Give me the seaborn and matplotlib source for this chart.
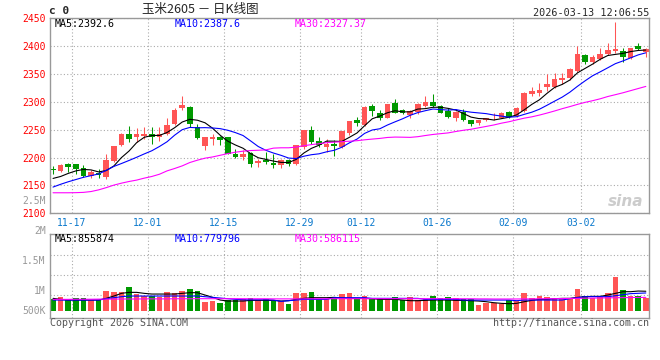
import numpy as np
import pandas as pd
import matplotlib
matplotlib.use("Agg")
import matplotlib.pyplot as plt
import matplotlib.transforms as mtransforms
import seaborn as sns

# Daily candles, 2025-11-13 .. 2026-03-13 (79 trading days)
opens = [2180, 2175, 2188, 2188, 2181, 2166, 2172, 2165, 2194, 2222,
         2242, 2237, 2238, 2243, 2237, 2243, 2260, 2289, 2290, 2255,
         2221, 2233, 2237, 2236, 2207, 2201, 2208, 2190, 2195, 2190,
         2186, 2196, 2188, 2218, 2250, 2229, 2218, 2225, 2219, 2244,
         2268, 2258, 2292, 2280, 2271, 2298, 2286, 2277, 2281, 2293,
         2299, 2292, 2283, 2271, 2281, 2267, 2261, 2267, 2270, 2271,
         2281, 2274, 2283, 2314, 2315, 2326, 2326, 2339, 2342, 2355,
         2383, 2371, 2377, 2385, 2390, 2390, 2379, 2399, 2389]
highs = [2184, 2188, 2190, 2189, 2186, 2177, 2179, 2206, 2221, 2244,
         2256, 2253, 2254, 2254, 2254, 2270, 2288, 2310, 2293, 2260,
         2237, 2243, 2238, 2237, 2215, 2213, 2209, 2198, 2210, 2206,
         2197, 2197, 2223, 2250, 2256, 2236, 2234, 2231, 2248, 2266,
         2273, 2293, 2296, 2286, 2296, 2304, 2287, 2285, 2297, 2310,
         2313, 2294, 2288, 2283, 2287, 2268, 2268, 2271, 2279, 2281,
         2284, 2290, 2318, 2326, 2334, 2350, 2352, 2352, 2360, 2400,
         2386, 2384, 2396, 2406, 2442, 2396, 2397, 2405, 2396]
lows = [2171, 2174, 2174, 2170, 2165, 2164, 2164, 2161, 2192, 2221,
        2228, 2228, 2233, 2225, 2230, 2241, 2258, 2286, 2255, 2233,
        2213, 2222, 2222, 2206, 2200, 2196, 2183, 2183, 2189, 2182,
        2181, 2185, 2186, 2216, 2225, 2218, 2210, 2203, 2217, 2241,
        2256, 2256, 2274, 2267, 2270, 2279, 2278, 2270, 2278, 2291,
        2290, 2279, 2270, 2266, 2266, 2256, 2258, 2265, 2267, 2270,
        2270, 2273, 2282, 2310, 2311, 2320, 2324, 2332, 2338, 2353,
        2367, 2367, 2375, 2383, 2388, 2371, 2377, 2392, 2380]
closes = [2178, 2186, 2183, 2179, 2167, 2174, 2168, 2195, 2220, 2242,
          2233, 2243, 2243, 2236, 2243, 2259, 2286, 2294, 2260, 2235,
          2236, 2237, 2231, 2207, 2201, 2207, 2189, 2194, 2192, 2186,
          2195, 2188, 2222, 2249, 2228, 2223, 2225, 2221, 2247, 2265,
          2262, 2290, 2283, 2271, 2295, 2280, 2280, 2283, 2296, 2299,
          2292, 2280, 2273, 2281, 2268, 2260, 2267, 2270, 2271, 2280,
          2273, 2288, 2315, 2320, 2321, 2331, 2341, 2342, 2359, 2385,
          2371, 2380, 2385, 2393, 2395, 2380, 2396, 2395, 2395]

# moving averages as drawn on the chart
ma5 = [2162.5, 2166, 2171.5, 2176, 2178.6, 2177.8, 2174.2, 2176.6, 2184.8, 2199.8,
       2211.6, 2226.6, 2236.2, 2239.4, 2239.6, 2244.8, 2253.4, 2263.6, 2268.4, 2266.8,
       2262.2, 2252.4, 2239.8, 2229.2, 2222.4, 2216.6, 2207.0, 2199.6, 2196.6, 2193.6,
       2191.2, 2191.0, 2196.6, 2208.0, 2216.4, 2222.0, 2229.4, 2229.2, 2228.8, 2236.2,
       2244.0, 2257.0, 2269.4, 2274.2, 2280.2, 2283.8, 2281.8, 2281.8, 2286.8, 2287.6,
       2290.0, 2290.0, 2288.0, 2285.0, 2278.8, 2272.4, 2269.8, 2269.2, 2267.2, 2269.6,
       2272.2, 2276.4, 2285.4, 2295.2, 2303.4, 2315.0, 2325.6, 2331.0, 2338.8, 2351.6,
       2359.6, 2367.4, 2376.0, 2382.8, 2384.8, 2386.6, 2389.8, 2391.8, 2392.6]
ma10 = [2147, 2152, 2156.5, 2160.5, 2164.5, 2167.5, 2170.5, 2177, 2184, 2189.2,
        2194.7, 2200.4, 2206.4, 2212.1, 2219.7, 2228.2, 2240.0, 2249.9, 2253.9, 2253.2,
        2253.5, 2252.9, 2251.7, 2248.8, 2244.6, 2239.4, 2229.7, 2219.7, 2212.9, 2208.0,
        2203.9, 2199.0, 2198.1, 2202.3, 2205.0, 2206.6, 2210.2, 2212.9, 2218.4, 2226.3,
        2233.0, 2243.2, 2249.3, 2251.5, 2258.2, 2263.9, 2269.4, 2275.6, 2280.5, 2283.9,
        2286.9, 2285.9, 2284.9, 2285.9, 2283.2, 2281.2, 2279.9, 2278.6, 2276.1, 2274.2,
        2272.3, 2273.1, 2277.3, 2281.2, 2286.5, 2293.6, 2301.0, 2308.2, 2317.0, 2327.5,
        2337.3, 2346.5, 2353.5, 2360.8, 2368.2, 2373.1, 2378.6, 2383.9, 2387.6]
ma30 = [2136.8, 2136.8, 2136.8, 2137, 2137.5, 2139, 2142, 2146, 2150.5, 2154,
        2157, 2159.5, 2163, 2166, 2170, 2176, 2180.3, 2185, 2191, 2195.2,
        2198.8, 2201, 2204, 2207, 2209.5, 2211.3, 2212.5, 2213, 2213.6, 2216.8,
        2217.4, 2217.4, 2218.7, 2221.1, 2223.1, 2224.7, 2226.6, 2227.5, 2228.4, 2229.2,
        2230.1, 2231.7, 2233.0, 2234.2, 2235.9, 2236.6, 2236.4, 2236.1, 2237.3, 2239.4,
        2241.3, 2242.7, 2244.1, 2246.6, 2248.8, 2250.6, 2253.2, 2255.7, 2258.3, 2261.5,
        2264.1, 2267.4, 2270.5, 2272.9, 2276.0, 2279.6, 2283.4, 2287.5, 2291.2, 2295.2,
        2298.8, 2301.8, 2305.2, 2309.3, 2312.6, 2316.0, 2319.8, 2323.6, 2327.37]

# volume (thousand lots) and its moving averages
volume_k = [530, 590, 500, 545, 545, 470, 470, 880, 835, 835,
            1040, 735, 660, 630, 615, 835, 790, 880, 955, 865,
            395, 440, 350, 470, 470, 500, 570, 470, 515, 410,
            410, 295, 790, 790, 835, 500, 500, 585, 735, 790,
            545, 645, 545, 545, 545, 585, 470, 585, 470, 500,
            650, 545, 585, 545, 500, 500, 270, 320, 320, 290,
            470, 440, 800, 560, 650, 600, 560, 560, 560, 950,
            650, 550, 600, 770, 1500, 930, 650, 650, 550]
vma5_k = [543, 499, 469, 469, 469, 469, 469, 543, 645, 763,
          807, 807, 763, 733, 733, 733, 733, 763, 792, 792,
          689, 587, 469, 425, 425, 425, 455, 455, 455, 455,
          425, 440, 499, 543, 572, 572, 572, 587, 557, 543,
          543, 543, 528, 499, 499, 499, 469, 440, 440, 455,
          469, 469, 469, 455, 455, 440, 425, 396, 352, 323,
          308, 323, 396, 455, 499, 499, 528, 543, 543, 587,
          616, 631, 631, 689, 763, 836, 836, 865, 855.874]
vma10_k = [469, 469, 469, 469, 469, 469, 469, 528, 572, 616,
           645, 645, 645, 645, 645, 645, 645, 645, 645, 645,
           616, 587, 557, 528, 499, 480, 480, 480, 480, 469,
           411, 440, 469, 499, 499, 499, 499, 572, 572, 572,
           572, 572, 543, 543, 543, 543, 543, 543, 543, 499,
           499, 499, 499, 499, 469, 469, 469, 469, 469, 469,
           469, 440, 469, 469, 469, 469, 469, 469, 528, 572,
           616, 616, 616, 616, 660, 704, 750, 765, 779.796]
vma30_k = [499, 499, 499, 505, 505, 505, 510, 510, 510, 515,
           515, 515, 520, 520, 520, 520, 525, 525, 525, 528,
           528, 528, 528, 528, 528, 528, 525, 525, 525, 520,
           520, 520, 520, 520, 525, 525, 525, 528, 528, 528,
           528, 528, 530, 530, 530, 530, 530, 528, 528, 528,
           528, 528, 528, 525, 525, 525, 520, 520, 515, 515,
           515, 515, 520, 520, 525, 528, 530, 535, 540, 545,
           550, 555, 560, 565, 570, 575, 580, 583, 586.115]

tick_idx = [2, 12, 22, 32, 40, 50, 60, 69]
tick_labels = ["11-17", "12-01", "12-15", "12-29", "01-12", "01-26", "02-09", "03-02"]

df = pd.DataFrame({"open": opens, "high": highs, "low": lows, "close": closes,
                   "ma5": ma5, "ma10": ma10, "ma30": ma30,
                   "vol": np.array(volume_k) * 1000,
                   "vma5": np.array(vma5_k) * 1000,
                   "vma10": np.array(vma10_k) * 1000,
                   "vma30": np.array(vma30_k) * 1000})
df["i"] = np.arange(len(df))

sns.set_style("white")
plt.rcParams["font.family"] = ["DejaVu Sans Mono"]

RED = "#ff5555"
GREEN = "#009900"
GRID = "#aaaaaa"
EDGE = "#999999"
W, H = 660, 360


def fx(px):
    return px / W


def fy(py):
    return 1 - py / H


up = df["close"] >= df["open"]
colors = np.where(up, RED, GREEN)

fig = plt.figure(figsize=(6.6, 3.6), dpi=100)
ax = fig.add_axes([fx(50), fy(213.3), 599 / W, 195.3 / H])
axv = fig.add_axes([fx(50), fy(318), 599 / W, 84 / H])

# candles
body_lo = np.minimum(df["open"], df["close"])
body_h = np.maximum(np.abs(df["close"] - df["open"]), 0.9)
ax.vlines(df["i"], df["low"], df["high"], colors=colors, linewidth=0.75, zorder=2)
ax.bar(df["i"], body_h, bottom=body_lo, width=0.74, color=colors, linewidth=0, zorder=2)

sns.lineplot(data=df, x="i", y="ma5", ax=ax, color="black", linewidth=0.8, zorder=3)
sns.lineplot(data=df, x="i", y="ma10", ax=ax, color="#0000ff", linewidth=0.8, zorder=3)
sns.lineplot(data=df, x="i", y="ma30", ax=ax, color="#ff00ff", linewidth=0.8, zorder=3)

# volume
axv.bar(df["i"], df["vol"], width=0.74, color=colors, linewidth=0, zorder=2)
sns.lineplot(data=df, x="i", y="vma5", ax=axv, color="black", linewidth=0.8, zorder=3)
sns.lineplot(data=df, x="i", y="vma10", ax=axv, color="#0000ff", linewidth=0.8, zorder=3)
sns.lineplot(data=df, x="i", y="vma30", ax=axv, color="#ff00ff", linewidth=0.8, zorder=3)

xlim = (-0.4, 78.42)
xt = np.array(tick_idx) + 0.5

ax.set_xlim(*xlim)
ax.set_ylim(2100, 2450)
ax.set_yticks(range(2100, 2451, 50))
ax.set_xticks(xt, tick_labels)
ax.tick_params(axis="y", length=0, pad=3, labelcolor="#ff0000", labelsize=7)
ax.tick_params(axis="x", length=0, pad=3.5, labelcolor="#0a78cc", labelsize=7)
ax.grid(True, color=GRID, linestyle=(0, (1, 2)), linewidth=0.8)
ax.set_xlabel("")
ax.set_ylabel("")

# volume axis: 44k lots per pixel, zero at the bar baseline
px_k = 44000
axv.set_xlim(*xlim)
axv.set_ylim(-7.3 * px_k, 76.7 * px_k)
axv.set_xticks(xt)
axv.set_xticklabels([])
axv.set_yticks([50.2 * px_k, 20.2 * px_k, 0.2 * px_k], ["1.5M", "1M", "500K"])
axv.set_yticks([55.7 * px_k, 35.7 * px_k, 15.7 * px_k], minor=True)
axv.tick_params(axis="both", which="both", length=0)
axv.tick_params(axis="y", pad=3, labelcolor="#999999", labelsize=7)
axv.grid(True, axis="x", which="major", color=GRID, linestyle=(0, (1, 2)), linewidth=0.8)
axv.grid(True, axis="y", which="minor", color=GRID, linestyle=(0, (1, 2)), linewidth=0.8)
axv.grid(False, axis="y", which="major")
axv.set_xlabel("")
axv.set_ylabel("")

trans = mtransforms.blended_transform_factory(axv.transAxes, axv.transData)
axv.text(-0.0067, 80.2 * px_k, "2M", transform=trans, ha="right", va="center",
         color="#999999", fontsize=7, clip_on=False)
axv.text(-0.0067, 109.7 * px_k, "2.5M", transform=trans, ha="right", va="center",
         color="#999999", fontsize=7, clip_on=False)

for a in (ax, axv):
    for s in a.spines.values():
        s.set_color(EDGE)
        s.set_linewidth(1)

# header texts
fig.text(fx(49), fy(11.5), "c 0", fontsize=8, fontweight="bold", ha="left", va="center")
fig.text(fx(200), fy(9.5), "玉米2605 － 日K线图", fontsize=9, ha="center", va="center",
         family=["Noto Sans CJK SC", "DejaVu Sans"])
fig.text(fx(649), fy(12.5), "2026-03-13 12:06:55", fontsize=7.3, ha="right", va="center")

fig.text(fx(55), fy(24), "MA5:2392.6", fontsize=7.2, color="black", va="center")
fig.text(fx(175), fy(24), "MA10:2387.6", fontsize=7.2, color="#0000ff", va="center")
fig.text(fx(295), fy(24), "MA30:2327.37", fontsize=7.2, color="#ff00ff", va="center")

fig.text(fx(55), fy(238.5), "MA5:855874", fontsize=7.2, color="black", va="center")
fig.text(fx(175), fy(238.5), "MA10:779796", fontsize=7.2, color="#0000ff", va="center")
fig.text(fx(295), fy(238.5), "MA30:586115", fontsize=7.2, color="#ff00ff", va="center")

fig.text(fx(50), fy(323), "Copyright 2026 SINA.COM", fontsize=7.2, color="#555555", va="center")
fig.text(fx(649), fy(323), "http://finance.sina.com.cn", fontsize=7.2, color="#555555",
         ha="right", va="center")

# faint watermark
fig.text(fx(626), fy(201), "sina", fontsize=11, fontstyle="italic", fontweight="bold",
         color="#cccccc", ha="center", va="center", family="DejaVu Sans")

fig.savefig("out.png", dpi=100)
